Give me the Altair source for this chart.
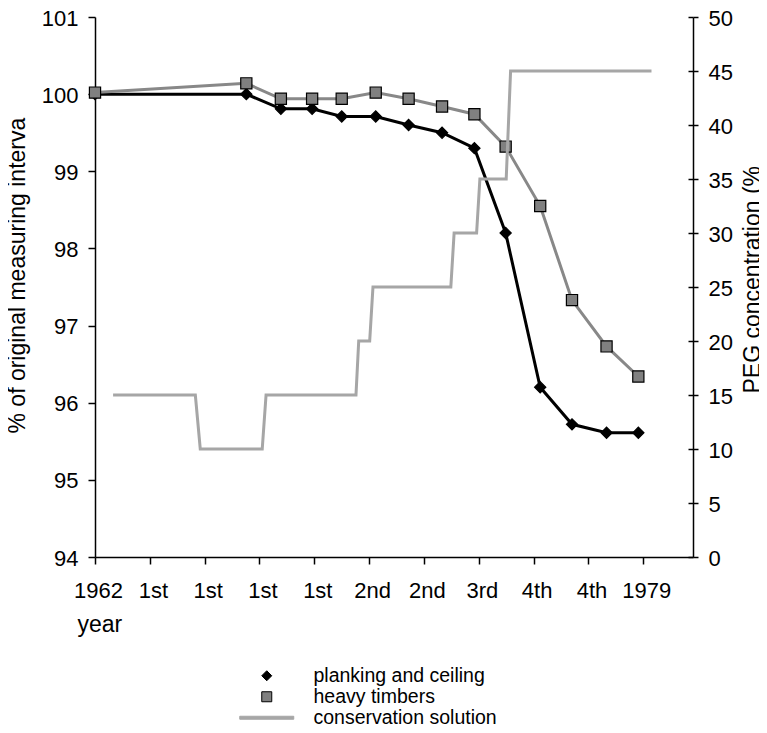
import altair as alt
import pandas as pd

FONT = "Liberation Sans"

# ---- data ----
x_labels = ["1962", "1st", "1st", "1st", "1st", "2nd", "2nd", "3rd", "4th", "4th", "1979"]
measure_x = [0, 2.76, 3.39, 3.96, 4.50, 5.12, 5.72, 6.33, 6.92, 7.49, 8.12, 8.70, 9.33, 9.91]
planking = [100.0, 100.0, 99.81, 99.81, 99.71, 99.71, 99.60, 99.50, 99.30, 98.20, 96.20, 95.72, 95.61, 95.61]
heavy = [100.02, 100.14, 99.94, 99.94, 99.94, 100.02, 99.94, 99.84, 99.74, 99.32, 98.55, 97.33, 96.73, 96.34]
solution_x = [0.33, 1.83, 1.92, 3.05, 3.12, 4.76, 4.81, 5.01, 5.07, 6.49, 6.55, 6.96, 7.02, 7.50, 7.58, 10.15]
solution_conc = [15, 15, 10, 10, 15, 15, 20, 20, 25, 25, 30, 30, 35, 35, 45, 45]
series_names = ["planking and ceiling", "heavy timbers", "conservation solution"]

X_MAX = 10.907
PLOT_W = 598
PLOT_H = 540
LINE_PATH = "M-5.4,-0.3H5.4V0.3H-5.4Z"

measure_df = pd.DataFrame({
    "x": measure_x * 2,
    "value": planking + heavy,
    "series": [series_names[0]] * len(measure_x) + [series_names[1]] * len(measure_x),
})
solution_df = pd.DataFrame({"x": solution_x, "conc": solution_conc})

label_expr = "[" + ",".join("'%s'" % l for l in x_labels) + "][datum.value]"

x_axis = alt.Axis(
    values=list(range(len(x_labels))), labelExpr=label_expr, title="year",
    titleAnchor="start", titleAlign="left", titleX=-18, titleY=74, titleBaseline="alphabetic",
    tickSize=7, labelPadding=16, labelOffset=3, labelOverlap=False, labelFlush=False,
)
x_enc = alt.X("x:Q", scale=alt.Scale(domain=[0, X_MAX], nice=False, zero=False), axis=x_axis)

left_axis = alt.Axis(
    values=list(range(94, 102)), format="d", tickSize=7, labelPadding=10,
    labelBaseline="alphabetic", labelOffset=8,
    title="% of original measuring interva", titleAngle=270, titleAlign="left",
    titleBaseline="middle", titleX=-78, titleY=416,
)
right_axis = alt.Axis(
    orient="right", values=list(range(0, 51, 5)), format="d", tickSize=5, labelPadding=10,
    labelBaseline="alphabetic", labelOffset=8,
    title="PEG concentration (%", titleAngle=270, titleAlign="left",
    titleBaseline="middle", titleX=59, titleY=376,
)
# inner half of the right axis' crossing ticks
right_inner_axis = alt.Axis(
    orient="left", offset=-PLOT_W, values=list(range(0, 51, 5)), tickSize=5,
    labels=False, domain=False, title=None,
)
left_scale = alt.Scale(domain=[94, 101], nice=False, zero=False)
right_scale = alt.Scale(domain=[0, 50], nice=False, zero=False)

legend = alt.Legend(
    title=None, orient="none", legendX=162, legendY=649, padding=0,
    labelFontSize=19.5, labelFont=FONT, labelColor="black", labelOffset=37, labelLimit=0,
    rowPadding=0, symbolStrokeWidth=1, symbolOpacity=1, symbolSize=100,
)

lines = alt.Chart(measure_df).mark_line(strokeWidth=3).encode(
    x=x_enc,
    y=alt.Y("value:Q", scale=left_scale, axis=left_axis),
    color=alt.Color("series:N", scale=alt.Scale(domain=series_names[:2], range=["black", "#888888"]), legend=None),
)

points = alt.Chart(measure_df).mark_point(filled=True, size=125, strokeWidth=1.2, opacity=1).encode(
    x=x_enc,
    y=alt.Y("value:Q", scale=left_scale, axis=None),
    fill=alt.Fill("series:N", scale=alt.Scale(domain=series_names, range=["black", "#808080", "#a6a6a6"]), legend=legend),
    stroke=alt.Stroke("series:N", scale=alt.Scale(domain=series_names, range=["black", "black", "#a6a6a6"]), legend=legend),
    shape=alt.Shape("series:N", scale=alt.Scale(domain=series_names, range=["diamond", "square", LINE_PATH]), legend=legend),
)

step = alt.Chart(solution_df).mark_line(color="#a6a6a6", strokeWidth=3).encode(
    x=x_enc,
    y=alt.Y("conc:Q", scale=right_scale, axis=right_axis),
)

step_ticks = alt.Chart(solution_df).mark_line(strokeOpacity=0).encode(
    x=x_enc,
    y=alt.Y("conc:Q", scale=right_scale, axis=right_inner_axis),
)

chart = alt.layer(lines, points, step, step_ticks).resolve_scale(y="independent").properties(
    width=PLOT_W, height=PLOT_H,
    autosize=alt.AutoSizeParams(type="none"),
    padding={"left": 87, "top": 9, "right": 66, "bottom": 168},
).configure_view(stroke=None).configure_axis(
    domainColor="black", domainWidth=1.5, tickColor="black", tickWidth=1.5,
    labelColor="black", titleColor="black", labelFont=FONT, titleFont=FONT,
    labelFontSize=22, titleFontSize=23, titleFontWeight="normal", grid=False,
)

chart.save("out.html", embed_options={"renderer": "svg", "actions": False})
